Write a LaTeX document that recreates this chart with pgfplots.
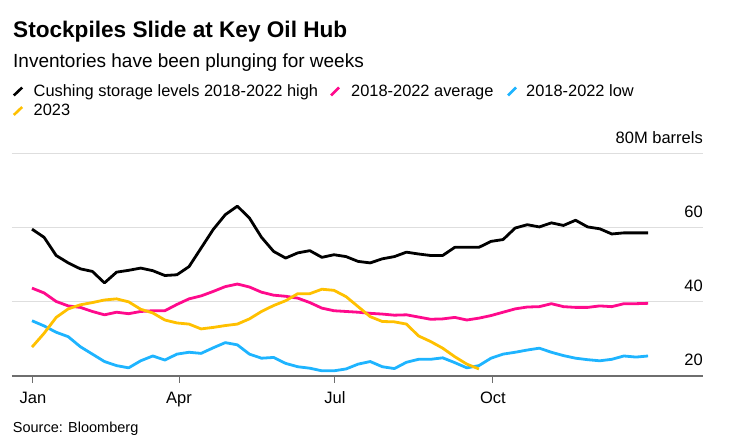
\documentclass[border=0pt]{standalone}
\usepackage{fontspec}
\setmainfont{Liberation Sans}
\usepackage{pgfplots}
\usepackage{pgfplotstable}
\pgfplotsset{compat=1.18}
\definecolor{cblack}{HTML}{000000}
\definecolor{cpink}{HTML}{FF0A8C}
\definecolor{cblue}{HTML}{1EB4FF}
\definecolor{cyellow}{HTML}{FFC000}
\definecolor{gridc}{HTML}{DEDEDE}
\definecolor{axisc}{HTML}{6E6E6E}

\pgfplotstableread{
k v
0 59.6
1 57.4
2 52.5
3 50.5
4 48.9
5 48.2
6 45.1
7 48.0
8 48.5
9 49.1
10 48.4
11 47.1
12 47.3
13 49.5
14 54.5
15 59.5
16 63.5
17 65.8
18 62.6
19 57.4
20 53.6
21 51.8
22 53.2
23 53.8
24 52.0
25 52.7
26 52.2
27 50.9
28 50.5
29 51.6
30 52.2
31 53.4
32 52.9
33 52.5
34 52.5
35 54.7
36 54.7
37 54.7
38 56.3
39 56.8
40 59.9
41 60.8
42 60.2
43 61.3
44 60.6
45 62.0
46 60.2
47 59.7
48 58.3
49 58.6
50 58.6
51 58.6
}\high

\pgfplotstableread{
k v
0 43.7
1 42.4
2 40.1
3 38.9
4 38.5
5 37.4
6 36.5
7 37.2
8 36.8
9 37.4
10 37.6
11 37.6
12 39.3
13 40.8
14 41.6
15 42.8
16 44.1
17 44.8
18 44.0
19 42.6
20 41.8
21 41.5
22 41.0
23 39.8
24 38.3
25 37.6
26 37.4
27 37.2
28 36.9
29 36.7
30 36.4
31 36.5
32 35.9
33 35.3
34 35.4
35 35.8
36 35.1
37 35.6
38 36.3
39 37.2
40 38.1
41 38.6
42 38.7
43 39.5
44 38.7
45 38.5
46 38.5
47 38.9
48 38.7
49 39.5
50 39.5
51 39.6
}\avg

\pgfplotstableread{
k v
0 34.9
1 33.5
2 31.8
3 30.6
4 27.9
5 25.9
6 23.9
7 22.8
8 22.2
9 24.1
10 25.4
11 24.3
12 25.9
13 26.4
14 26.1
15 27.6
16 29.0
17 28.4
18 25.9
19 24.8
20 25.0
21 23.4
22 22.5
23 22.1
24 21.4
25 21.4
26 21.9
27 23.2
28 23.9
29 22.5
30 22.0
31 23.7
32 24.5
33 24.5
34 24.9
35 23.6
36 22.2
37 22.8
38 24.8
39 25.9
40 26.4
41 27.0
42 27.5
43 26.4
44 25.5
45 24.8
46 24.4
47 24.1
48 24.5
49 25.4
50 25.1
51 25.4
}\low

\pgfplotstableread{
k v
0 27.8
1 31.5
2 35.8
3 38.1
4 39.2
5 39.8
6 40.5
7 40.8
8 40.0
9 38.0
10 37.0
11 35.1
12 34.3
13 34.0
14 32.7
15 33.1
16 33.6
17 34.0
18 35.4
19 37.4
20 39.0
21 40.3
22 42.2
23 42.2
24 43.4
25 43.1
26 41.4
27 38.7
28 36.0
29 34.7
30 34.6
31 34.0
32 30.8
33 29.3
34 27.5
35 25.2
36 23.2
37 21.9
}\cur

\begin{document}
\begin{tikzpicture}[x=1pt,y=1pt]
\path[use as bounding box] (0,0) rectangle (740,442);
\begin{axis}[
  at={(12pt,66pt)}, anchor=south west,
  scale only axis, width=691pt, height=222.5pt,
  xmin=-1.656, xmax=55.55, ymin=20, ymax=80,
  axis x line*=bottom, axis y line*=right,
  x axis line style={draw=axisc, line width=1.4pt, -},
  y axis line style={draw=none},
  xtick={0.08,12.17,25.08,38.16},
  xticklabels={Jan,Apr,Jul,Oct},
  ytick={20,40,60,80},
  yticklabels={20,40,60,80M barrels},
  yticklabel pos=right,
  tick align=outside,
  major tick length=7pt,
  xtick style={draw=axisc, line width=1pt},
  ytick style={draw=none},
  ymajorgrids,
  grid style={draw=gridc, line width=1.3pt},
  xticklabel style={font=\fontsize{16.5}{19}\selectfont, anchor=base, inner sep=0pt, yshift=-21pt},
  yticklabel style={font=\fontsize{16.5}{19}\selectfont, anchor=base east, inner sep=0pt, xshift=-7pt, yshift=10pt},
  clip=false,
]
\addplot[cblack, line width=2.8pt, line join=round] table[x=k,y=v] {\high};
\addplot[cpink, line width=2.8pt, line join=round] table[x=k,y=v] {\avg};
\addplot[cblue, line width=2.8pt, line join=round] table[x=k,y=v] {\low};
\addplot[cyellow, line width=2.8pt, line join=round] table[x=k,y=v] {\cur};
\end{axis}
% titles
\node[anchor=base west, inner sep=0pt, font=\bfseries\fontsize{22.6}{27}\selectfont] at (13,404) {Stockpiles Slide at Key Oil Hub};
\node[anchor=base west, inner sep=0pt, font=\fontsize{19}{23}\selectfont] at (13,374) {Inventories have been plunging for weeks};
% legend
\draw[cblack, line width=2.6pt] (13.8,346.5) -- (22.2,354.5);
\node[anchor=base west, inner sep=0pt, font=\fontsize{16.4}{20}\selectfont] at (33.5,345.5) {Cushing storage levels 2018-2022 high};
\draw[cpink, line width=2.6pt] (331,346.5) -- (339,354.5);
\node[anchor=base west, inner sep=0pt, font=\fontsize{16.4}{20}\selectfont] at (351,345.5) {2018-2022 average};
\draw[cblue, line width=2.6pt] (508,346.5) -- (516,354.5);
\node[anchor=base west, inner sep=0pt, font=\fontsize{16.4}{20}\selectfont] at (526,345.5) {2018-2022 low};
\draw[cyellow, line width=2.6pt] (13.8,327) -- (22.2,335);
\node[anchor=base west, inner sep=0pt, font=\fontsize{16.4}{20}\selectfont] at (33.5,326) {2023};
% source
\node[anchor=base west, inner sep=0pt, font=\fontsize{14.5}{17}\selectfont] at (12.7,9) {Source: Bloomberg};
\end{tikzpicture}
\end{document}
